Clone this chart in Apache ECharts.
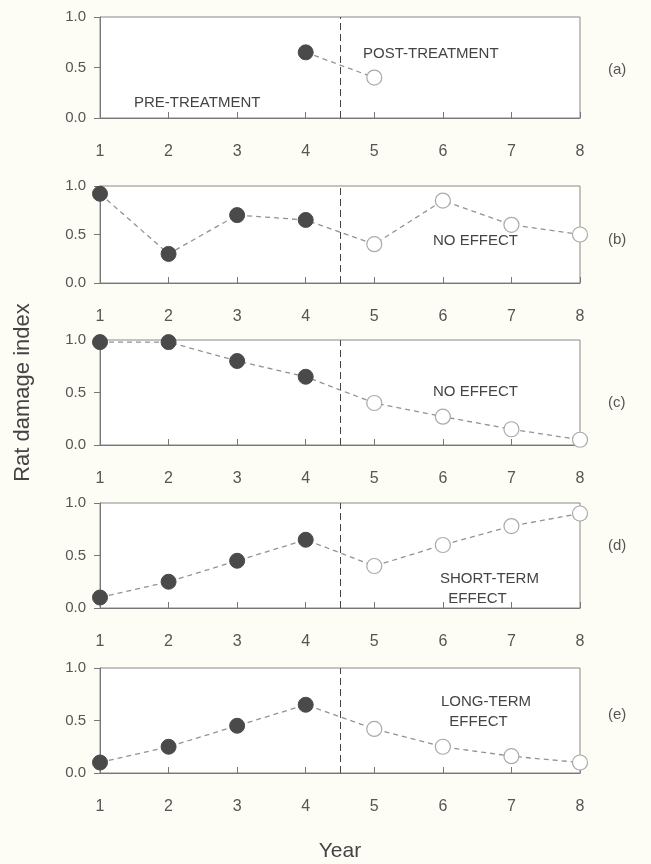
<!DOCTYPE html>
<html>
<head>
<meta charset="utf-8">
<script src="https://cdn.jsdelivr.net/npm/echarts@6/dist/echarts.min.js"></script>
<style>
  html, body { margin: 0; padding: 0; background: #fdfdf6; }
  #chart { width: 651px; height: 864px; }
</style>
</head>
<body>
<div id="chart"></div>
<script>
// data
const years = [1, 2, 3, 4, 5, 6, 7, 8]
const yearsA = [4, 5]
const valuesA = [0.65, 0.40]
const valuesB = [0.92, 0.30, 0.70, 0.65, 0.40, 0.85, 0.60, 0.50]
const valuesC = [0.98, 0.98, 0.80, 0.65, 0.40, 0.27, 0.15, 0.05]
const valuesD = [0.10, 0.25, 0.45, 0.65, 0.40, 0.60, 0.78, 0.90]
const valuesE = [0.10, 0.25, 0.45, 0.65, 0.42, 0.25, 0.16, 0.10]
const yTicks = [0, 0.5, 1]
const treatStart = 4.5 // 处理开始 (4年与5年之间)
const panelTags = ['(a)', '(b)', '(c)', '(d)', '(e)']

const panels = [
  { x: yearsA, y: valuesA, top: 17, height: 101 },
  { x: years, y: valuesB, top: 186, height: 97 },
  { x: years, y: valuesC, top: 340, height: 105 },
  { x: years, y: valuesD, top: 503, height: 105 },
  { x: years, y: valuesE, top: 668, height: 105 }
]

const font = 'Liberation Sans, Arial, sans-serif'
const axisGray = '#777'
const lineGray = '#939393'

const grids = []
const xAxes = []
const yAxes = []
const series = []

panels.forEach((p, i) => {
  grids.push({
    left: 100,
    right: 71,
    top: p.top,
    height: p.height,
    show: true,
    borderColor: '#888',
    borderWidth: 1,
    backgroundColor: '#ffffff'
  })
  xAxes.push({
    gridIndex: i,
    type: 'value',
    min: 1,
    max: 8,
    interval: 1,
    axisLine: { show: true, lineStyle: { color: axisGray } },
    axisTick: { show: true, inside: true, length: 6, lineStyle: { color: axisGray } },
    axisLabel: { margin: 26, color: '#555', fontFamily: font, fontSize: 16 },
    splitLine: { show: false },
    name: i === 4 ? 'Year' : '',
    nameLocation: 'middle',
    nameGap: 68,
    nameTextStyle: { color: '#444', fontFamily: font, fontSize: 21 }
  })
  yAxes.push({
    gridIndex: i,
    type: 'value',
    min: 0,
    max: 1,
    interval: 0.5,
    axisLine: { show: true, lineStyle: { color: axisGray } },
    axisTick: { show: true, length: 6, lineStyle: { color: axisGray } },
    axisLabel: {
      margin: 14,
      color: '#555',
      fontFamily: font,
      fontSize: 15,
      formatter: v => (yTicks.includes(v) ? v.toFixed(1) : '')
    },
    splitLine: { show: false },
    name: i === 2 ? 'Rat damage index' : '',
    nameLocation: 'middle',
    nameGap: 66,
    nameTextStyle: { color: '#444', fontFamily: font, fontSize: 22 }
  })
  const data = p.x.map((yr, k) => {
    const pre = yr < treatStart
    return {
      value: [yr, p.y[k]],
      itemStyle: pre
        ? { color: '#4a4a4a', borderColor: '#4a4a4a', borderWidth: 1 }
        : { color: '#ffffff', borderColor: '#aaaaaa', borderWidth: 1.2 }
    }
  })
  series.push({
    type: 'line',
    xAxisIndex: i,
    yAxisIndex: i,
    data: data,
    symbol: 'circle',
    symbolSize: 15,
    lineStyle: { color: lineGray, width: 1.3, type: [5, 4] },
    z: 3,
    markLine: {
      silent: true,
      symbol: 'none',
      label: { show: false },
      lineStyle: { color: '#444', width: 1, type: [7, 4] },
      data: [{ xAxis: treatStart }]
    }
  })
})

const textStyle = { fill: '#444', font: '15px ' + font }
const graphic = [
  { type: 'text', left: 134, top: 95, style: Object.assign({ text: 'PRE-TREATMENT' }, textStyle) },
  { type: 'text', left: 363, top: 46, style: Object.assign({ text: 'POST-TREATMENT' }, textStyle) },
  { type: 'text', left: 433, top: 233, style: Object.assign({ text: 'NO EFFECT' }, textStyle) },
  { type: 'text', left: 433, top: 384, style: Object.assign({ text: 'NO EFFECT' }, textStyle) },
  { type: 'text', left: 440, top: 569, style: Object.assign({ text: 'SHORT-TERM\n  EFFECT', lineHeight: 20 }, textStyle) },
  { type: 'text', left: 441, top: 692, style: Object.assign({ text: 'LONG-TERM\n  EFFECT', lineHeight: 20 }, textStyle) }
]
const tagTops = [62, 232, 395, 538, 707]
panelTags.forEach((t, i) => {
  graphic.push({
    type: 'text',
    left: 608,
    top: tagTops[i],
    style: { text: t, fill: '#555', font: '15px ' + font }
  })
})

const option = {
  backgroundColor: '#fdfdf6',
  animation: false,
  grid: grids,
  xAxis: xAxes,
  yAxis: yAxes,
  series: series,
  graphic: graphic
}

const myChart = echarts.init(document.getElementById('chart'))
myChart.setOption(option, true)
window.addEventListener('resize', () => {
  myChart.resize()
})
</script>
</body>
</html>
